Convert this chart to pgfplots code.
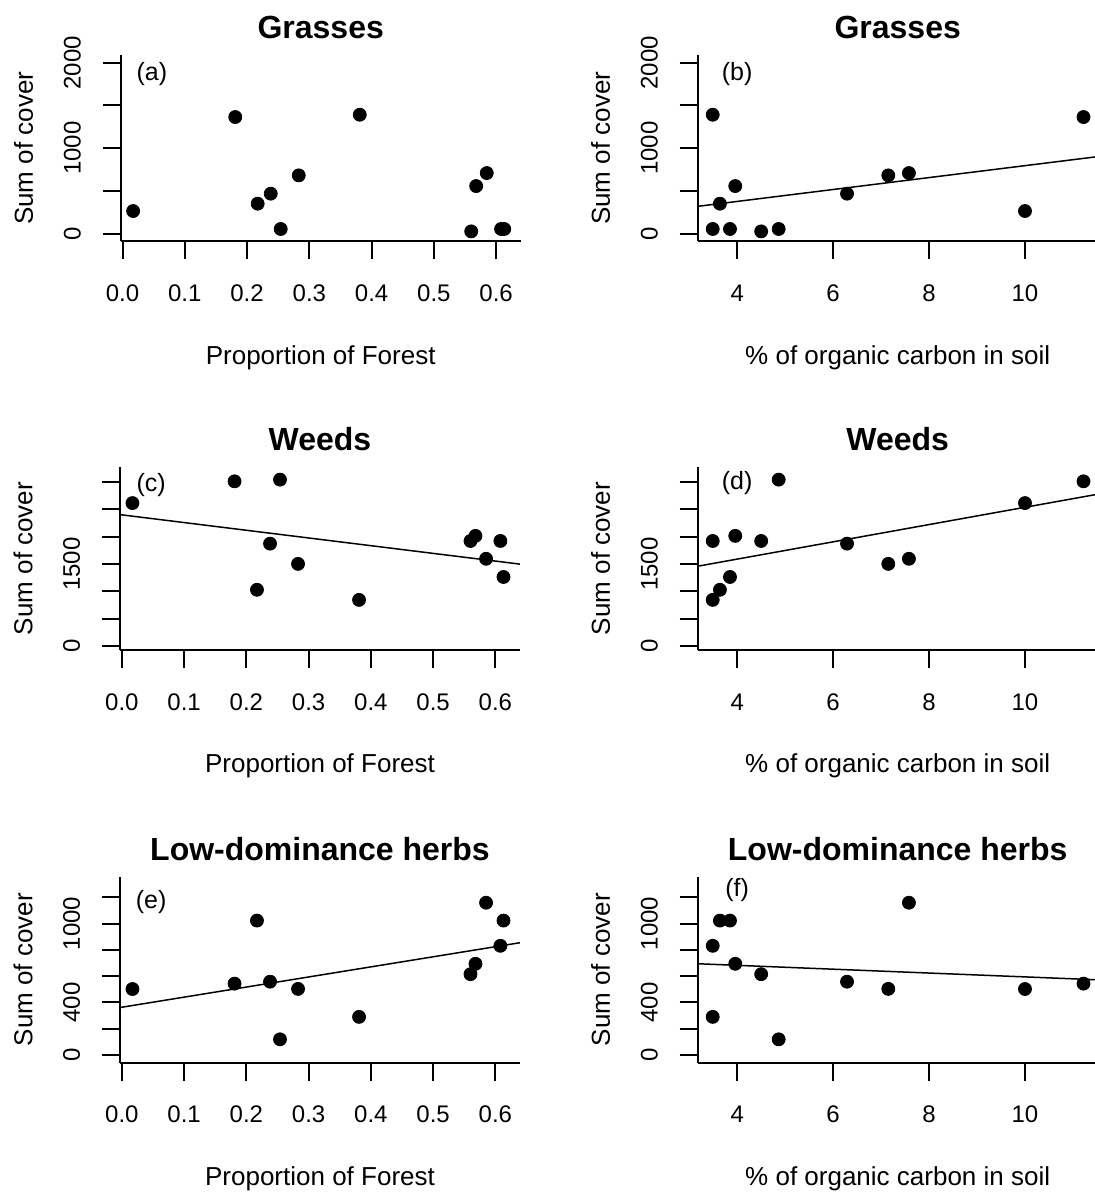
\documentclass[border=0pt]{standalone}
\usepackage{fontspec}
\setmainfont{Liberation Sans}
\usepackage{pgfplots}
\pgfplotsset{compat=1.18}
\usepackage{pgfplotstable}

% one row per site: forest proportion, organic carbon, cover sums
\pgfplotstableread{
F      C       G     W     H
0.017  10.00   265   2615  502
0.181  11.22   1364  3013  543
0.217  3.64    351   1029  1023
0.238  6.29    468   1873  558
0.283  7.15    682   1503  503
0.381  3.49    1391  844   290
0.560  4.50    27    1922  615
0.568  3.96    557   2015  694
0.585  7.58    709   1596  1159
0.254  4.865   55    3044  119
0.608  3.49    55    1922  831
0.613  3.85    55    1263  1023
}\sites

\pgfplotsset{
  rpanel/.style={
    scale only axis, width=200pt,
    axis x line=bottom, axis y line=left,
    axis line style={-, line width=1pt},
    every tick/.style={black, line width=1pt},
    tick align=outside, major tick length=9pt,
    minor tick num=0,
    tick label style={font=\fontsize{12}{14}\selectfont},
    xticklabel style={anchor=center, yshift=-16.9pt},
    yticklabel style={anchor=center, xshift=-15.2pt, rotate=90},
    every axis title/.style={at={(axis description cs:0.5,1)}, anchor=center,
      yshift=14pt, font=\bfseries\fontsize{16}{19}\selectfont},
    every axis x label/.style={at={(axis description cs:0.5,0)}, anchor=center,
      yshift=-58pt, font=\fontsize{13}{15}\selectfont},
    every axis y label/.style={at={(axis description cs:-0.2425,0.5)}, rotate=90,
      anchor=center, font=\fontsize{13}{15}\selectfont},
    ylabel={Sum of cover},
  },
  forestx/.style={xmin=-0.003, xmax=0.6395,
    xtick={0,0.1,...,0.6}, xticklabels={0.0,0.1,0.2,0.3,0.4,0.5,0.6},
    xlabel={Proportion of Forest}},
  carbonx/.style={xmin=3.177, xmax=11.516,
    xtick={4,6,8,10}, xticklabels={4,6,8,10},
    xlabel={\% of organic carbon in soil}},
  grassy/.style={height=93pt, ymin=-89, ymax=2086,
    ytick={0,500,...,2000}, yticklabels={0,,1000,,2000}},
  weedy/.style={height=91.5pt, ymin=-73, ymax=3275,
    ytick={0,500,...,3000}, yticklabels={0,,,1500,,,}},
  herby/.style={height=93pt, ymin=-59, ymax=1357,
    ytick={0,200,...,1200}, yticklabels={0,,400,,,1000,}},
  pts/.style={only marks, mark=*, mark size=3.25pt, black},
  fit/.style={black, line width=0.75pt, no marks},
}
\newcommand{\plab}[1]{\fontsize{12.5}{14}\selectfont #1}

\begin{document}
\begin{tikzpicture}
\useasboundingbox (0,0) rectangle (547pt,-596.5pt);

% row 1: grasses
\begin{axis}[rpanel, forestx, grassy, title={Grasses},
  at={(60.35pt,-120.65pt)}, anchor=south west]
  \addplot[pts] table[x=F, y=G] {\sites};
  \node at (axis cs:0.047,1871) {\plab{(a)}};
\end{axis}
\begin{axis}[rpanel, carbonx, grassy, title={Grasses},
  at={(348.85pt,-120.65pt)}, anchor=south west]
  \addplot[pts] table[x=C, y=G] {\sites};
  \addplot[fit] coordinates {(3.0,307.5) (12.0,935)};
  \node at (axis cs:4.0,1871) {\plab{(b)}};
\end{axis}

% row 2: weeds
\begin{axis}[rpanel, forestx, weedy, title={Weeds},
  at={(60pt,-325pt)}, anchor=south west]
  \addplot[pts] table[x=F, y=W] {\sites};
  \addplot[fit] coordinates {(-0.05,2470) (0.7,1413)};
  \node at (axis cs:0.047,2950) {\plab{(c)}};
\end{axis}
\begin{axis}[rpanel, carbonx, weedy, title={Weeds},
  at={(348.85pt,-325pt)}, anchor=south west]
  \addplot[pts] table[x=C, y=W] {\sites};
  \addplot[fit] coordinates {(3.0,1432) (12.0,2854)};
  \node at (axis cs:4.0,2980) {\plab{(d)}};
\end{axis}

% row 3: low-dominance herbs
\begin{axis}[rpanel, forestx, herby, title={Low-dominance herbs},
  at={(60pt,-531.35pt)}, anchor=south west]
  \addplot[pts] table[x=F, y=H] {\sites};
  \addplot[fit] coordinates {(-0.05,325) (0.7,901)};
  \node at (axis cs:0.047,1167) {\plab{(e)}};
\end{axis}
\begin{axis}[rpanel, carbonx, herby, title={Low-dominance herbs},
  at={(348.85pt,-531.35pt)}, anchor=south west]
  \addplot[pts] table[x=C, y=H] {\sites};
  \addplot[fit] coordinates {(3.0,697) (12.0,565)};
  \node at (axis cs:4.0,1255) {\plab{(f)}};
\end{axis}
\end{tikzpicture}
\end{document}
